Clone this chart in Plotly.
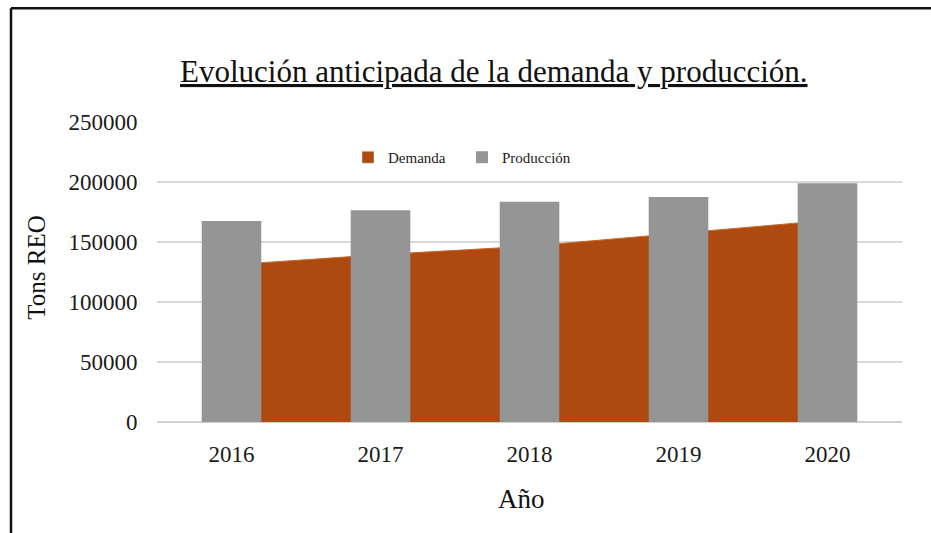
import plotly.graph_objects as go

# Anticipated rare-earth demand vs. production (tons REO)
years = ["2016", "2017", "2018", "2019", "2020"]
demanda = [131000, 139500, 146500, 157500, 168000]
produccion = [167500, 176500, 183500, 187500, 199000]
y_ticks = [0, 50000, 100000, 150000, 200000, 250000]

W, H = 931, 533
L, R, T, B = 157, 29, 122, 110.5
FONT = "Liberation Serif, Times New Roman, serif"
ORANGE = "#AE4A10"
GREY = "#959595"
INK = "#1A1A1A"


def px_x(x):
    return (x - L) / (W - L - R)


def px_y(y):
    return (H - B - y) / (H - T - B)


fig = go.Figure()

# Demand as a filled area, drawn underneath the bars
fig.add_trace(go.Scatter(
    x=years, y=demanda, mode="lines", fill="tozeroy",
    line=dict(color="#C86A2E", width=1), fillcolor=ORANGE,
    showlegend=False, hoverinfo="x+y", name="Demanda",
    xaxis="x", yaxis="y",
))

# Legend swatch for the demand series
fig.add_trace(go.Bar(
    x=[None], y=[None], name="Demanda", marker_color=ORANGE,
    xaxis="x2", yaxis="y2",
))

# Production bars on an overlaid axis so they sit above the area
fig.add_trace(go.Bar(
    x=years, y=produccion, name="Producción", marker_color=GREY,
    marker_line_width=0, width=0.4, xaxis="x2", yaxis="y2",
))

axis_common = dict(type="category", range=[-0.5, 4.5], fixedrange=True)
yrange = [0, 250000]

fig.update_layout(
    width=W, height=H,
    margin=dict(l=L, r=R, t=T, b=B, pad=0),
    paper_bgcolor="white", plot_bgcolor="white",
    barmode="overlay",
    font=dict(family=FONT, color=INK),
    xaxis=dict(
        **axis_common, showgrid=False, zeroline=False, showline=False,
        ticks="outside", ticklen=11, tickcolor="rgba(0,0,0,0)",
        tickfont=dict(size=23, family=FONT, color=INK),
    ),
    yaxis=dict(
        range=yrange, tickvals=y_ticks, ticktext=[str(v) for v in y_ticks],
        showgrid=True, gridcolor="#D9D9D9", gridwidth=1.5,
        zeroline=True, zerolinecolor="#D0D0D0", zerolinewidth=1.5,
        showline=False, ticks="outside", ticklen=14,
        tickcolor="rgba(0,0,0,0)",
        tickfont=dict(size=23, family=FONT, color=INK),
        fixedrange=True,
    ),
    xaxis2=dict(**axis_common, overlaying="x", visible=False),
    yaxis2=dict(range=yrange, overlaying="y", visible=False, fixedrange=True),
    legend=dict(
        orientation="h", x=px_x(348), y=px_y(141), xanchor="left",
        yanchor="top", font=dict(size=15, family=FONT, color=INK),
        bgcolor="rgba(0,0,0,0)", traceorder="normal", itemwidth=30,
        tracegroupgap=0, entrywidth=69, entrywidthmode="pixels",
    ),
    showlegend=True,
)

# Title, axis titles
fig.add_annotation(
    text="<u>Evolución anticipada de la demanda y producción.</u>",
    xref="paper", yref="paper", x=px_x(494), y=px_y(71),
    xanchor="center", yanchor="middle", showarrow=False,
    font=dict(size=31, family=FONT, color="#111111"),
)
fig.add_annotation(
    text="Año", xref="paper", yref="paper", x=px_x(521), y=px_y(500),
    xanchor="center", yanchor="middle", showarrow=False,
    font=dict(size=27, family=FONT, color="#111111"),
)
fig.add_annotation(
    text="Tons REO", xref="paper", yref="paper", x=px_x(37), y=px_y(268),
    xanchor="center", yanchor="middle", showarrow=False, textangle=-90,
    font=dict(size=25, family=FONT, color="#111111"),
)

# Frame along the top and left edges
frame = dict(type="line", xref="paper", yref="paper",
             line=dict(color="#111111", width=2.5))
fig.add_shape(**frame, x0=px_x(11), y0=px_y(8), x1=px_x(931), y1=px_y(8))
fig.add_shape(**frame, x0=px_x(11), y0=px_y(8), x1=px_x(11), y1=px_y(540))

fig.write_html("out.html")
